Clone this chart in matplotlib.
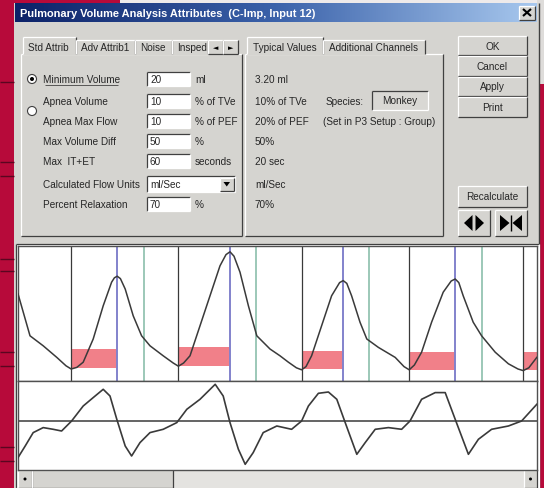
import numpy as np
import matplotlib
matplotlib.use("Agg")
import matplotlib.pyplot as plt
from matplotlib.patches import Rectangle, Circle, Polygon
from matplotlib.colors import LinearSegmentedColormap

# ---------------- data ----------------
title = "Pulmonary Volume Analysis Attributes  (C-Imp, Input 12)"
left_tabs = ["Std Attrib", "Adv Attrib1", "Noise", "Insped"]
right_tabs = ["Typical Values", "Additional Channels"]
param_labels = ["Minimum Volume", "Apnea Volume", "Apnea Max Flow", "Max Volume Diff",
                "Max  IT+ET", "Calculated Flow Units", "Percent Relaxation"]
param_values = ["20", "10", "10", "50", "60", "ml/Sec", "70"]
param_units = ["ml", "% of TVe", "% of PEF", "%", "seconds", "", "%"]
typical_values = ["3.20 ml", "10% of TVe", "20% of PEF", "50%", "20 sec", "ml/Sec", "70%"]
species = "Monkey"
buttons = ["OK", "Cancel", "Apply", "Print"]

# volume trace (time s, volume ml)
vol_t = [0.0, 0.30, 0.63, 0.97, 1.20, 1.33, 1.47, 1.63, 1.88, 2.13, 2.34, 2.41, 2.48, 2.56,
         2.68, 2.88, 3.09, 3.30, 3.63, 3.88, 4.01, 4.14, 4.30, 4.55, 4.80, 5.05, 5.20, 5.30,
         5.40, 5.55, 5.76, 5.97, 6.30, 6.55, 6.76, 6.96, 7.09, 7.20, 7.34, 7.59, 7.84, 8.04,
         8.13, 8.22, 8.34, 8.55, 8.72, 9.01, 9.43, 9.65, 9.78, 9.91, 10.09, 10.34, 10.63,
         10.83, 10.93, 11.02, 11.13, 11.38, 11.59, 11.93, 12.26, 12.50, 12.63, 12.77, 12.97]
vol_v = [2.18, 1.13, 0.88, 0.59, 0.38, 0.30, 0.34, 0.47, 1.05, 1.88, 2.47, 2.58, 2.62, 2.56,
         2.30, 1.63, 1.13, 0.88, 0.63, 0.45, 0.37, 0.45, 0.63, 1.38, 2.13, 2.88, 3.16, 3.23,
         3.12, 2.72, 1.88, 1.13, 0.80, 0.63, 0.47, 0.33, 0.28, 0.36, 0.63, 1.38, 2.13, 2.46,
         2.51, 2.44, 2.13, 1.47, 1.05, 0.84, 0.59, 0.36, 0.28, 0.40, 0.72, 1.47, 2.22,
         2.50, 2.55, 2.46, 2.13, 1.47, 1.13, 0.72, 0.43, 0.30, 0.26, 0.33, 0.59]

# flow trace (time s, flow ml/s)
flow_t = [0.0, 0.18, 0.38, 0.63, 0.88, 1.09, 1.34, 1.63, 1.88, 2.13, 2.30, 2.47, 2.68, 2.84,
          3.05, 3.30, 3.63, 3.97, 4.22, 4.55, 4.93, 5.13, 5.30, 5.51, 5.68, 5.88, 6.13, 6.47,
          6.84, 7.09, 7.26, 7.51, 7.76, 7.97, 8.18, 8.47, 8.68, 8.93, 9.26, 9.59, 9.80,
          10.09, 10.43, 10.68, 10.93, 11.26, 11.51, 11.84, 12.26, 12.59, 12.97]
flow_v = [-7.32, -5.0, -2.32, -1.32, -1.66, -2.0, 0.0, 3.0, 4.68, 6.34, 5.0, 0.34, -5.0, -7.0,
          -4.32, -2.32, -1.66, -0.32, 2.34, 4.34, 7.34, 5.0, -0.32, -5.66, -8.66, -6.32, -2.32, -1.0,
          -1.66, 0.0, 3.0, 5.54, 5.8, 4.34, -0.32, -6.66, -4.32, -1.66, -1.32, -1.66, 0.0,
          4.34, 5.68, 5.68, 0.34, -6.66, -3.66, -1.66, -1.0, 0.0, 3.34]

insp_start = [1.33, 4.01, 7.09, 9.78, 12.63]
insp_end = [2.48, 5.30, 8.13, 10.93]
relax = [3.16, 5.95, 8.78, 11.61]
band_lo = [0.33, 0.37, 0.30, 0.28, 0.28]
band_hi = [0.80, 0.84, 0.76, 0.73, 0.73]

# ---------------- figure ----------------
W, H = 544, 489
fig = plt.figure(figsize=(W / 100, H / 100), dpi=100)
CRIMSON = "#B70A3A"
fig.patch.set_facecolor(CRIMSON)
bg = fig.add_axes([0, 0, 1, 1])
bg.set_axis_off()

FONT = "Liberation Sans"
GRAY = "#D5D4D0"
DARK = "#404040"
TXT = "#262626"


def rect(x0, y0, x1, y1, fc, ec="none", lw=0, z=1):
    bg.add_patch(Rectangle((x0, y0), x1 - x0, y1 - y0, facecolor=fc, edgecolor=ec, lw=lw, zorder=z))


def line(xs, ys, c, lw=0.8, z=3):
    bg.plot(xs, ys, color=c, lw=lw, zorder=z, solid_capstyle="butt")


def raised(x0, y0, x1, y1, fc=GRAY, z=2):
    rect(x0, y0, x1, y1, fc, z=z)
    line([x0, x1], [y0, y0], "white", 0.9, z + 0.1)
    line([x0, x0], [y0, y1], "white", 0.9, z + 0.1)
    line([x0, x1], [y1, y1], DARK, 0.9, z + 0.1)
    line([x1, x1], [y0, y1], DARK, 0.9, z + 0.1)


def sunken(x0, y0, x1, y1, fc="white", z=2):
    rect(x0, y0, x1, y1, fc, z=z)
    line([x0, x1], [y0, y0], DARK, 0.9, z + 0.1)
    line([x0, x0], [y0, y1], DARK, 0.9, z + 0.1)
    line([x0, x1], [y1, y1], "white", 0.9, z + 0.1)
    line([x1, x1], [y0, y1], "white", 0.9, z + 0.1)


def txt(x, y, s, size=7.2, ha="left", color=TXT, weight="normal", z=5):
    bg.text(x, y, s, fontsize=size, ha=ha, va="center", color=color, family=FONT,
            weight=weight, zorder=z)


# background pieces
rect(120, 0, W, 3.5, "#EEEAEA", z=1)
rect(537, 0, W, 85, "#DEDCDA", z=1)
for yy in [83, 163, 177, 260, 272, 353, 367, 448, 462]:
    line([0, 14], [yy, yy], "#5A0620", 1.0, 2)

# dialog body
rect(14, 3.5, 539, H, GRAY, z=1)
line([539, 539], [3.5, H], DARK, 1.0, 2)

# title bar
cmap = LinearSegmentedColormap.from_list("tb", ["#0C2268", "#3B62AA", "#A8C8EE"])
bg.imshow(np.linspace(0, 1, 256)[None, :], extent=(15, 537, 23, 4.5), cmap=cmap,
          aspect="auto", zorder=2)
txt(20, 14, title, size=7.9, color="white", weight="bold")
raised(519, 6.5, 535, 20.5)
line([523, 531], [10, 17], "black", 1.5, 4)
line([523, 531], [17, 10], "black", 1.5, 4)

# ----- left tab control -----
rect(21, 55, 242, 237, GRAY, z=2)
line([21, 242], [55, 55], "white", 0.9, 2.2)
line([21, 21], [55, 237], "white", 0.9, 2.2)
line([21, 242], [237, 237], DARK, 0.9, 2.2)
line([242, 242], [55, 237], DARK, 0.9, 2.2)
tab_x = [(23, 76), (76, 135), (135, 172), (172, 208)]
for i, ((x0, x1), name) in enumerate(zip(tab_x, left_tabs)):
    top = 37.5 if i == 0 else 40.5
    rect(x0, top, x1, 55.5, GRAY, z=3)
    line([x0, x1], [top, top], "white", 0.9, 3.1)
    line([x0, x0], [top, 55], "white", 0.9, 3.1)
    line([x1, x1], [top, 55], DARK, 0.9, 3.1)
    txt(x0 + 5, 48, name)
line([24, 75], [55, 55], GRAY, 1.5, 3.2)
for (x0, x1), sym in zip([(208, 223), (223, 238)], ["\u25C4", "\u25BA"]):
    raised(x0, 41, x1, 55, z=3.5)
    bg.text((x0 + x1) / 2, 48, sym, fontsize=5, ha="center", va="center", color="black",
            family="DejaVu Sans", zorder=5)

row_y = [80, 102, 122, 142, 162, 185, 205]
for i, (lab, val, unit, y) in enumerate(zip(param_labels, param_values, param_units, row_y)):
    txt(43, y, lab)
    if i == 5:
        sunken(147, y - 8, 235, y + 8)
        txt(150, y, val)
        raised(220, y - 6.5, 233.5, y + 6.5, z=3)
        bg.add_patch(Polygon([[223.5, y - 2], [230, y - 2], [226.75, y + 2.5]], closed=True,
                             facecolor="black", zorder=5))
    else:
        sunken(147, y - 7, 190, y + 7)
        txt(150, y, val)
        txt(195, y, unit)
bg.add_patch(Circle((32, 80), 4.5, facecolor="white", edgecolor=DARK, lw=0.8, zorder=4))
bg.add_patch(Circle((32, 80), 2.0, facecolor="black", zorder=5))
bg.add_patch(Circle((32, 112), 4.5, facecolor="white", edgecolor=DARK, lw=0.8, zorder=4))
line([45, 118], [86, 86], TXT, 0.5, 5)

# ----- right tab control -----
rect(245, 55, 443, 237, GRAY, z=2)
line([245, 443], [55, 55], "white", 0.9, 2.2)
line([245, 245], [55, 237], "white", 0.9, 2.2)
line([245, 443], [237, 237], DARK, 0.9, 2.2)
line([443, 443], [55, 237], DARK, 0.9, 2.2)
rtab_x = [(247, 323), (323, 425)]
for i, ((x0, x1), name) in enumerate(zip(rtab_x, right_tabs)):
    top = 37.5 if i == 0 else 40.5
    rect(x0, top, x1, 55.5, GRAY, z=3)
    line([x0, x1], [top, top], "white", 0.9, 3.1)
    line([x0, x0], [top, 55], "white", 0.9, 3.1)
    line([x1, x1], [top, 55], DARK, 0.9, 3.1)
    txt(x0 + 6, 48, name)
line([248, 322], [55, 55], GRAY, 1.5, 3.2)
for v, y in zip(typical_values, row_y):
    txt(255, y, v)
txt(326, 102, "Species:")
sunken(372, 92, 428, 111, fc="#D9D8D4")
txt(400, 101.5, species, ha="center")
txt(323, 122, "(Set in P3 Setup : Group)")

# ----- buttons -----
btn_y = [(37, 56), (57, 77), (78, 97), (98, 118)]
for (y0, y1), name in zip(btn_y, buttons):
    raised(458, y0, 527, y1)
    txt(492.5, (y0 + y1) / 2, name, ha="center")
raised(458, 187, 527, 208)
txt(492.5, 197.5, "Recalculate", ha="center")
raised(458, 211, 490, 237)
raised(495, 211, 527, 237)
bg.add_patch(Polygon([[464, 224], [472.5, 216], [472.5, 232]], closed=True, fc="black", zorder=5))
bg.add_patch(Polygon([[475.5, 216], [484, 224], [475.5, 232]], closed=True, fc="black", zorder=5))
bg.add_patch(Polygon([[500, 216], [509.5, 224], [500, 232]], closed=True, fc="black", zorder=5))
bg.add_patch(Polygon([[522, 216], [512.5, 224], [522, 232]], closed=True, fc="black", zorder=5))
line([511, 511], [216, 232], "black", 1.0, 5)

# ----- plot frame and scrollbar -----
sunken(16, 245, 538.5, 489, fc="white")
rect(18, 470.5, 537, 489, "#E4E3E0", z=3)
raised(18, 471, 32, 489, z=3.5)
raised(32, 471, 173, 489, z=3.5)
raised(524, 471, 537, 489, z=3.5)
bg.add_patch(Circle((25, 480), 1.5, fc="black", zorder=5))
bg.add_patch(Circle((530.5, 480), 1.5, fc="black", zorder=5))

bg.set_xlim(0, W)
bg.set_ylim(H, 0)

# ----- waveform axes -----
x0f, x1f = 18 / W, 537 / W
ax1 = fig.add_axes([x0f, 1 - 382 / H, x1f - x0f, (382 - 247) / H])
ax2 = fig.add_axes([x0f, 1 - 470.5 / H, x1f - x0f, (470.5 - 382) / H])
tmax = 12.975
for ax in (ax1, ax2):
    ax.set_xlim(0, tmax)
    ax.set_xticks([])
    ax.set_yticks([])
    ax.set_facecolor("white")
    for s in ax.spines.values():
        s.set_color("#505050")
        s.set_linewidth(1.0)

ax1.set_ylim(0, 3.375)
for i, (lo, hi) in enumerate(zip(band_lo, band_hi)):
    start = insp_start[i]
    end = insp_end[i] if i < len(insp_end) else tmax
    ax1.add_patch(Rectangle((start, lo), end - start, hi - lo, facecolor="#F0727C",
                            edgecolor="none", alpha=0.9, zorder=1))
for t in relax:
    ax1.axvline(t, color="#9CC8B8", lw=1.4, zorder=2)
for t in insp_end:
    ax1.axvline(t, color="#8282CC", lw=1.4, zorder=2)
for t in insp_start:
    ax1.axvline(t, color="#3A3A3A", lw=0.9, zorder=2)
ax1.plot(vol_t, vol_v, color="#3A3A3A", lw=1.1, zorder=3, solid_joinstyle="round")

ax2.set_ylim(-9.7, 8.0)
ax2.axhline(0, color="#3A3A3A", lw=1.1, zorder=2)
ax2.plot(flow_t, flow_v, color="#3A3A3A", lw=1.2, zorder=3, solid_joinstyle="round")

fig.savefig("out.png", dpi=100, facecolor=fig.get_facecolor())
